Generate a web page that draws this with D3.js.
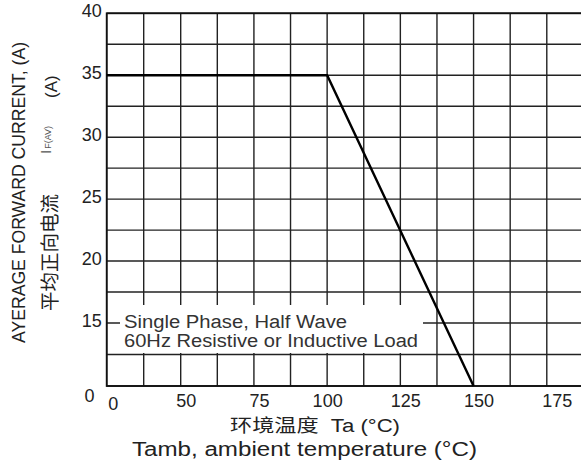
<!DOCTYPE html>
<html>
<head>
<meta charset="utf-8">
<script src="https://cdn.jsdelivr.net/npm/d3@7"></script>
<style>
  body { margin: 0; background: #fff; }
  svg { display: block; font-family: "Liberation Sans", Arial, sans-serif; }
</style>
</head>
<body>
<div id="chart"></div>
<script>
// derating curve
const temps = [0, 100, 150];
const currents = [35, 35, 0];

// broken axes: the first cell on each axis jumps from 0
const xTickValues = [0, 50, 75, 100, 125, 150, 175];
const xTickLabels = ["0", "50", "75", "100", "125", "150", "175"];
const yTickValues = [0, 15, 20, 25, 30, 35, 40];
const yTickLabels = ["0", "15", "20", "25", "30", "35", "40"];
const xGridValues = [0, 25, 50, 62.5, 75, 87.5, 100, 112.5, 125, 137.5, 150, 162.5, 175, 187.5];
const yGridValues = [0, 7.5, 15, 17.5, 20, 22.5, 25, 27.5, 30, 32.5, 35, 37.5, 40];

const width = 581;
const height = 464;

const x = d3.scaleLinear().domain([0, 50, 187.5]).range([106.7, 180.7, 583.4]);
const y = d3.scaleLinear().domain([0, 15, 40]).range([386, 323, 13.3]);

const svg = d3
  .select("#chart")
  .append("svg")
  .attr("width", width)
  .attr("height", height);

// grid
const grid = svg.append("g").attr("stroke", "#222").attr("stroke-width", 1.4);
grid
  .selectAll("line.v")
  .data(xGridValues)
  .join("line")
  .attr("class", "v")
  .attr("x1", (d) => x(d))
  .attr("x2", (d) => x(d))
  .attr("y1", y(0))
  .attr("y2", y(40));
grid
  .selectAll("line.h")
  .data(yGridValues)
  .join("line")
  .attr("class", "h")
  .attr("x1", x(0))
  .attr("x2", x(187.5))
  .attr("y1", (d) => y(d))
  .attr("y2", (d) => y(d));

// frame
svg
  .append("rect")
  .attr("x", x(0))
  .attr("y", y(40))
  .attr("width", x(187.5) - x(0))
  .attr("height", y(0) - y(40))
  .attr("fill", "none")
  .attr("stroke", "#111")
  .attr("stroke-width", 1.8);

// note box covers the grid
const noteLines = ["Single Phase, Half Wave", "60Hz Resistive or Inductive Load"];
const noteWidths = [223, 294];
const note = svg.append("g");
note
  .append("rect")
  .attr("x", 120)
  .attr("y", 305)
  .attr("width", 303)
  .attr("height", 48)
  .attr("fill", "#fff");
note
  .selectAll("text")
  .data(noteLines)
  .join("text")
  .attr("x", 124)
  .attr("y", (d, i) => 328 + i * 18.5)
  .attr("fill", "#333")
  .attr("textLength", (d, i) => noteWidths[i])
  .attr("lengthAdjust", "spacingAndGlyphs")
  .style("font-size", "18px")
  .text((d) => d);

// curve
const line = d3
  .line()
  .x((d) => x(d[0]))
  .y((d) => y(d[1]));
svg
  .append("path")
  .datum(d3.zip(temps, currents))
  .attr("d", line)
  .attr("fill", "none")
  .attr("stroke", "#000")
  .attr("stroke-width", 2.4);

// y axis labels
const yAxis = svg
  .append("g")
  .attr("transform", `translate(${x(0)},0)`)
  .call(
    d3
      .axisLeft(y)
      .tickValues(yTickValues)
      .tickFormat((d, i) => yTickLabels[i])
      .tickSize(0)
      .tickPadding(5)
  );
yAxis.select(".domain").remove();
yAxis
  .selectAll("text")
  .attr("fill", "#222")
  .style("font-size", "18px")
  .attr("dy", (d) => (d === 0 ? "0.85em" : "0.2em"))
  .attr("dx", (d) => (d === 0 ? "-0.4em" : "0"));

// x axis labels
const xAxis = svg
  .append("g")
  .attr("transform", `translate(0,${y(0)})`)
  .call(
    d3
      .axisBottom(x)
      .tickValues(xTickValues)
      .tickFormat((d, i) => xTickLabels[i])
      .tickSize(0)
      .tickPadding(10)
  );
xAxis.select(".domain").remove();
xAxis
  .selectAll("text")
  .attr("fill", "#222")
  .style("font-size", "18px")
  .attr("dx", (d) => (d === 175 ? 10 : d === 100 ? 0 : d === 0 ? 6 : 5))
  .attr("dy", (d) => (d === 0 ? "0.8em" : "0.62em"));

// axis titles
svg
  .append("text")
  .attr("x", 230)
  .attr("y", 432)
  .attr("fill", "#222")
  .attr("textLength", 170)
  .attr("lengthAdjust", "spacingAndGlyphs")
  .style("font-size", "18px")
  .html('<tspan font-family="Noto Sans CJK SC">环境温度</tspan>&#160;&#160;Ta (°C)');
svg
  .append("text")
  .attr("x", 132)
  .attr("y", 456)
  .attr("fill", "#222")
  .attr("textLength", 345)
  .attr("lengthAdjust", "spacingAndGlyphs")
  .style("font-size", "20px")
  .text("Tamb, ambient temperature (°C)");

svg
  .append("text")
  .attr("transform", "translate(25,343) rotate(-90)")
  .attr("fill", "#222")
  .attr("textLength", 301)
  .attr("lengthAdjust", "spacingAndGlyphs")
  .style("font-size", "18px")
  .text("AYERAGE FORWARD CURRENT, (A)");

svg
  .append("text")
  .attr("transform", "translate(57,311) rotate(-90)")
  .attr("fill", "#222")
  .attr("font-family", "Noto Sans CJK SC")
  .attr("textLength", 117)
  .attr("lengthAdjust", "spacingAndGlyphs")
  .style("font-size", "19px")
  .text("平均正向电流");

const sym = svg
  .append("text")
  .attr("transform", "translate(51,154) rotate(-90)")
  .attr("fill", "#555");
sym.append("tspan").style("font-size", "15px").text("I");
sym.append("tspan").attr("dx", 1).style("font-size", "9px").text("F(AV)");

svg
  .append("text")
  .attr("transform", "translate(57,98) rotate(-90)")
  .attr("fill", "#222")
  .style("font-size", "17px")
  .text("(A)");
</script>
</body>
</html>
